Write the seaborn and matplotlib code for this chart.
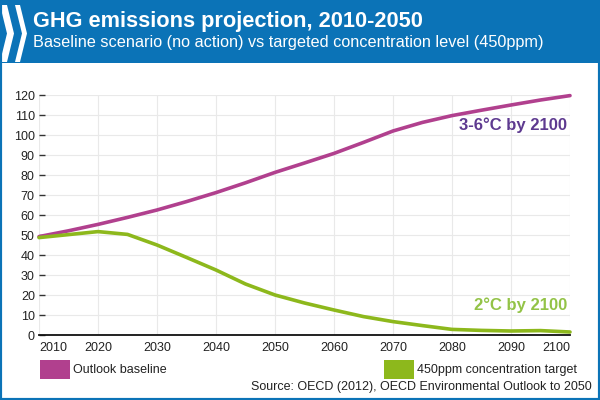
import matplotlib
matplotlib.use("Agg")
import matplotlib.pyplot as plt
from matplotlib.patches import Rectangle, Polygon
import seaborn as sns
import pandas as pd

years = list(range(2010, 2101, 5))
baseline = [49.2, 52.1, 55.3, 58.8, 62.5, 66.7, 71.2, 76.1, 81.3, 86.0,
            90.8, 96.3, 102.0, 106.3, 109.7, 112.4, 115.0, 117.5, 119.7]
target_450 = [48.7, 50.2, 51.7, 50.3, 45.0, 38.8, 32.5, 25.5, 20.0, 16.0,
              12.5, 9.2, 6.7, 4.7, 2.8, 2.3, 2.0, 2.2, 1.5]
series_names = ["Outlook baseline", "450ppm concentration target"]
x_ticks = list(range(2010, 2101, 10))
y_ticks = list(range(0, 121, 10))

title = "GHG emissions projection, 2010-2050"
subtitle = "Baseline scenario (no action) vs targeted concentration level (450ppm)"
source = "Source: OECD (2012), OECD Environmental Outlook to 2050"

PURPLE = "#b1408e"
GREEN = "#8db81c"
BLUE = "#0b73b7"

df = pd.DataFrame({
    "year": years * 2,
    "value": baseline + target_450,
    "series": [series_names[0]] * len(years) + [series_names[1]] * len(years),
})

sns.set_style("white")
plt.rcParams["font.family"] = ["Liberation Sans", "DejaVu Sans"]

fig = plt.figure(figsize=(6, 4), dpi=100)
W, H = 600, 400

# header band and frame
fig.patches.append(Rectangle((0, 1 - 63 / H), 1, 63 / H, transform=fig.transFigure,
                             facecolor=BLUE, edgecolor="none", zorder=0))
fig.patches.append(Rectangle((0, 0), 1, 1, transform=fig.transFigure,
                             fill=False, edgecolor=BLUE, lw=3, zorder=5))

# logo chevrons
def chevron(x0, w):
    top, bot, mid = 5, 62, 33.5
    pts = [(x0, top), (x0 + w, top), (x0 + w + 7, mid), (x0 + w, bot), (x0, bot), (x0 + 7, mid)]
    return Polygon([(px / W, 1 - py / H) for px, py in pts], closed=True,
                   transform=fig.transFigure, facecolor="white", edgecolor="none", zorder=2)

fig.patches.append(chevron(0, 7))
fig.patches.append(chevron(15, 5))

fig.text(33 / W, 1 - 21 / H, title, color="white", fontsize=15.7, fontweight="bold",
         va="center", ha="left")
fig.text(33 / W, 1 - 43 / H, subtitle, color="white", fontsize=11.7, va="center", ha="left")

ax = fig.add_axes([39 / W, 65 / H, 531 / W, 240 / H])
sns.lineplot(data=df, x="year", y="value", hue="series",
             palette={series_names[0]: PURPLE, series_names[1]: GREEN},
             linewidth=2.6, ax=ax, legend=False, clip_on=False)

ax.set_xlim(2010, 2100)
ax.set_ylim(0, 120)
ax.set_xticks(x_ticks)
ax.set_yticks(y_ticks)
ax.set_xticklabels([str(t) for t in x_ticks])
ax.set_yticklabels([str(t) for t in y_ticks])
labs = ax.get_xticklabels()
labs[0].set_ha("left")
labs[-1].set_ha("right")
ax.set_xlabel("")
ax.set_ylabel("")
ax.grid(True, color="#e9e9e9", linewidth=0.8)
ax.set_axisbelow(True)
for s in ["top", "right", "left"]:
    ax.spines[s].set_visible(False)
ax.spines["bottom"].set_color("#111111")
ax.spines["bottom"].set_linewidth(1.3)
ax.tick_params(axis="y", direction="in", length=4, width=1, color="#333333",
               labelsize=9, labelcolor="#222222", pad=3, left=True)
ax.tick_params(axis="x", length=0, labelsize=9, labelcolor="#222222", pad=5)

ax.text(2099.5, 105, "3-6°C by 2100", color="#5e3a90", fontsize=12, fontweight="bold",
        ha="right", va="center")
ax.text(2099.5, 15, "2°C by 2100", color="#93c347", fontsize=12, fontweight="bold",
        ha="right", va="center")

# legend
fig.patches.append(Rectangle((40 / W, 1 - 379 / H), 30 / W, 19 / H, transform=fig.transFigure,
                             facecolor=PURPLE, edgecolor="none"))
fig.text(73 / W, 1 - 370 / H, series_names[0], fontsize=9, color="#222222", va="center")
fig.patches.append(Rectangle((384 / W, 1 - 379 / H), 30 / W, 19 / H, transform=fig.transFigure,
                             facecolor=GREEN, edgecolor="none"))
fig.text(417 / W, 1 - 370 / H, series_names[1], fontsize=9, color="#222222", va="center")
fig.text(592 / W, 1 - 387 / H, source, fontsize=9, color="#222222", va="center", ha="right")

fig.savefig("out.png", dpi=100)
